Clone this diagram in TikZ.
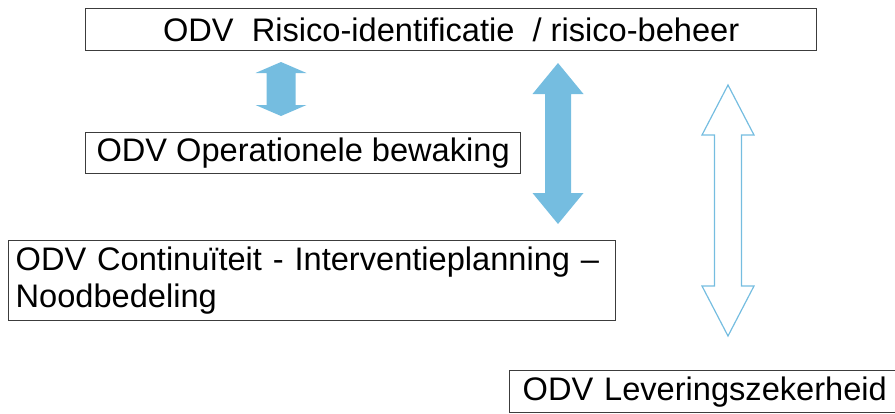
\documentclass[tikz,border=0pt]{standalone}
\usepackage{fontspec}
\setmainfont{Liberation Sans}
\usepackage{xcolor}
\usetikzlibrary{positioning}
\definecolor{odvblue}{RGB}{117,189,224}
\definecolor{odvframe}{RGB}{60,60,60}

\begin{document}
\begin{tikzpicture}[x=1pt,y=-1pt,
    odvbox/.style={draw=odvframe,line width=1.3pt,inner sep=0pt,font=\fontsize{32.6}{37}\selectfont},
    solidarrow/.style={fill=odvblue},
    hollowarrow/.style={draw=odvblue,line width=1.2pt},
    ]
\useasboundingbox (0,0) rectangle (895,413);
\clip (0,0) rectangle (895,413);
% boxes
\node[odvbox,anchor=north west,minimum width=731pt,minimum height=42pt] (risico) at (85,8)
    {ODV\ \ Risico-identificatie\ \ / risico-beheer};
\node[odvbox,anchor=north west,minimum width=435pt,minimum height=41pt] (bewaking) at (85,132)
    {ODV Operationele bewaking};
\node[odvbox,anchor=north west,minimum width=607pt,minimum height=80pt,
      text width=593pt,align=left,inner xsep=7pt] (continuiteit) at (8,240)
    {ODV Continuïteit - Interventieplanning --\\Noodbedeling};
\node[odvbox,anchor=north west,minimum width=420pt,minimum height=42pt,
      text width=406pt,align=left,inner xsep=13pt] (levering) at (509,370)
    {ODV Leveringszekerheid};
% double arrows: x / top / bottom / head half width / shaft half width / head length / look
\foreach \cx/\yt/\yb/\hw/\sw/\hl/\look in {
    281/62/116/25.5/14.5/11/solidarrow,
    558/63/224/25.5/13/31/solidarrow,
    728/85/336/26/13.5/50/hollowarrow}{
    \path[\look] (\cx,\yt) -- (\cx+\hw,\yt+\hl) -- (\cx+\sw,\yt+\hl) -- (\cx+\sw,\yb-\hl)
        -- (\cx+\hw,\yb-\hl) -- (\cx,\yb) -- (\cx-\hw,\yb-\hl) -- (\cx-\sw,\yb-\hl)
        -- (\cx-\sw,\yt+\hl) -- (\cx-\hw,\yt+\hl) -- cycle;
}
\end{tikzpicture}
\end{document}
